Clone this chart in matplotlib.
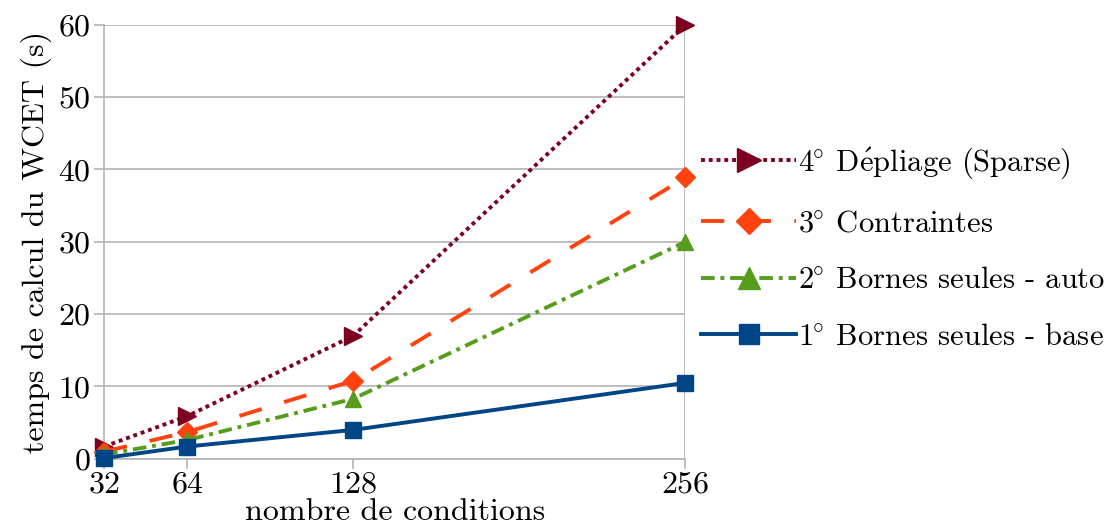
import matplotlib
matplotlib.use('Agg')
import matplotlib.pyplot as plt

plt.rcParams['font.family'] = ['cmr10', 'DejaVu Serif']
plt.rcParams['mathtext.fontset'] = 'cm'
plt.rcParams['axes.formatter.use_mathtext'] = True

conditions = [32, 64, 128, 256]
base = [0.1, 1.7, 4.0, 10.5]
auto = [0.6, 2.6, 8.3, 30.0]
contraintes = [1.0, 3.7, 10.8, 38.9]
depliage = [1.7, 5.9, 17.0, 60.0]

series = [
    (r'$4^{\!\!\circ}\;$D$\mathrm{\acute{e}}$pliage (Sparse)', depliage, '#7e0021', (0, (1, 1)), '>', 13),
    (r'$3^{\!\!\circ}\;$Contraintes', contraintes, '#ff420e', (0, (6, 6)), 'D', 10),
    (r'$2^{\!\!\circ}\;$Bornes seules - auto', auto, '#579d1c', (0, (3.5, 1.5, 1, 1.5)), '^', 12),
    (r'$1^{\!\!\circ}\;$Bornes seules - base', base, '#004586', '-', 's', 11),
]

fig = plt.figure(figsize=(11.2, 5.28), dpi=100)
ax = fig.add_axes([0.093, 0.131, 0.519, 0.822])

for lab, vals, col, ls, mk, ms in series:
    ax.plot(conditions, vals, color=col, linestyle=ls, linewidth=2.8,
            marker=mk, markersize=ms, label=lab, clip_on=False, zorder=3)

ax.set_xlim(32, 256)
ax.set_ylim(0, 60)
ax.set_xticks(conditions)
ax.set_yticks(range(0, 61, 10))
ax.grid(axis='y', color='#b3b3b3', linewidth=1.2)
ax.axvline(256, color='#b3b3b3', linewidth=1.2, zorder=1)
for s in ['top', 'right']:
    ax.spines[s].set_visible(False)
for s in ['left', 'bottom']:
    ax.spines[s].set_color('#b3b3b3')
    ax.spines[s].set_linewidth(1.2)
ax.tick_params(axis='both', color='#b3b3b3', width=1.2, length=7, labelsize=23)
ax.tick_params(axis='x', pad=2)
ax.tick_params(axis='y', pad=3)
ax.set_xlabel('nombre de conditions', fontsize=23, labelpad=0)
ax.set_ylabel('temps de calcul du WCET (s)', fontsize=23, labelpad=4)

ax.legend(loc='center left', bbox_to_anchor=(0.98, 0.485), frameon=False,
          handlelength=3.1, handletextpad=0.05, labelspacing=0.95, fontsize=22,
          markerscale=1.3)

plt.savefig('out.png')
